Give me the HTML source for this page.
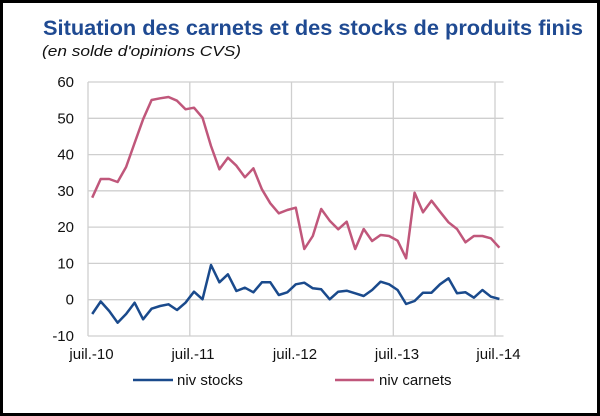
<!DOCTYPE html>
<html><head><meta charset="utf-8"><style>
html,body{margin:0;padding:0;background:#fff;}
svg{display:block;}
</style></head><body>
<svg width="600" height="416" viewBox="0 0 600 416" xmlns="http://www.w3.org/2000/svg">
<rect x="0" y="0" width="600" height="416" fill="#000"/>
<rect x="3" y="3" width="594" height="410" fill="#fff"/>
<text x="43" y="35" font-family="Liberation Sans, sans-serif" font-size="21" font-weight="bold" fill="#1f4a92" textLength="540" lengthAdjust="spacingAndGlyphs">Situation des carnets et des stocks de produits finis</text>
<text x="42" y="56" font-family="Liberation Sans, sans-serif" font-size="15" font-style="italic" fill="#111" textLength="199" lengthAdjust="spacingAndGlyphs">(en solde d'opinions CVS)</text>
<g stroke="#cfcfcf" stroke-width="1.3" fill="none">
<line x1="88" y1="82" x2="503.5" y2="82"/>
<line x1="88" y1="118.3" x2="503.5" y2="118.3"/>
<line x1="88" y1="154.6" x2="503.5" y2="154.6"/>
<line x1="88" y1="190.8" x2="503.5" y2="190.8"/>
<line x1="88" y1="227.1" x2="503.5" y2="227.1"/>
<line x1="88" y1="263.4" x2="503.5" y2="263.4"/>
<line x1="88" y1="299.7" x2="503.5" y2="299.7"/>
<line x1="88" y1="336" x2="503.5" y2="336"/>
<line x1="88" y1="82" x2="88" y2="336"/>
<line x1="189.8" y1="82" x2="189.8" y2="336"/>
<line x1="291.5" y1="82" x2="291.5" y2="336"/>
<line x1="393.3" y1="82" x2="393.3" y2="336"/>
<line x1="495" y1="82" x2="495" y2="336"/>
</g>
<g font-family="Liberation Sans, sans-serif" font-size="15" fill="#111" text-anchor="end">
<text x="74" y="87">60</text>
<text x="74" y="123.3">50</text>
<text x="74" y="159.6">40</text>
<text x="74" y="195.8">30</text>
<text x="74" y="232.1">20</text>
<text x="74" y="268.4">10</text>
<text x="74" y="304.7">0</text>
<text x="74" y="341">-10</text>
</g>
<g font-family="Liberation Sans, sans-serif" font-size="15" fill="#111" text-anchor="middle">
<text x="91.5" y="359">juil.-10</text>
<text x="193" y="359">juil.-11</text>
<text x="295" y="359">juil.-12</text>
<text x="397" y="359">juil.-13</text>
<text x="498.5" y="359">juil.-14</text>
</g>
<polyline fill="none" stroke="#c0577b" stroke-width="2.5" stroke-linejoin="round" points="92.2,197.7 100.7,179 109.2,179 117.6,182 126.1,167 134.6,143 143.1,119.3 151.6,100 160.1,98.3 168.5,97 177,100.7 185.5,109.3 194,107.7 202.5,117.7 211,146 219.4,169.3 227.9,157.7 236.4,165.7 244.9,177.3 253.4,168.3 261.9,189.3 270.3,203.3 278.8,213.3 287.3,210 295.8,207.7 304.3,249 312.8,236 321.2,209 329.7,220.7 338.2,229.3 346.7,221.7 355.2,249 363.7,229 372.1,241 380.6,235 389.1,236 397.6,240.7 406.1,258.3 414.6,192.7 423,212.3 431.5,200.7 440,211.7 448.5,222.3 457,229 465.5,242.3 473.9,236 482.4,236 490.9,238.3 499.4,247.7"/>
<polyline fill="none" stroke="#1a4a8c" stroke-width="2.5" stroke-linejoin="round" points="92.2,314 100.7,301.5 109.2,311 117.6,322.7 126.1,314 134.6,302.7 143.1,319.3 151.6,308.7 160.1,306 168.5,304.3 177,310 185.5,302.7 194,291.7 202.5,299.3 211,265 219.4,282.3 227.9,274.3 236.4,291 244.9,287.7 253.4,292.3 261.9,282.3 270.3,282.3 278.8,295 287.3,292.3 295.8,284.3 304.3,282.7 312.8,288.3 321.2,289.3 329.7,299.3 338.2,291.7 346.7,290.7 355.2,293.3 363.7,296 372.1,290 380.6,281.7 389.1,284.3 397.6,290 406.1,304 414.6,301 423,292.7 431.5,292.7 440,284.3 448.5,278.3 457,293.3 465.5,292.3 473.9,297.7 482.4,290 490.9,296.7 499.4,299"/>
<line x1="133" y1="380" x2="173" y2="380" stroke="#1a4a8c" stroke-width="2.5"/>
<text x="177" y="385" font-family="Liberation Sans, sans-serif" font-size="15" fill="#111">niv stocks</text>
<line x1="335" y1="380" x2="374" y2="380" stroke="#c0577b" stroke-width="2.5"/>
<text x="379" y="385" font-family="Liberation Sans, sans-serif" font-size="15" fill="#111">niv carnets</text>
</svg>
</body></html>
